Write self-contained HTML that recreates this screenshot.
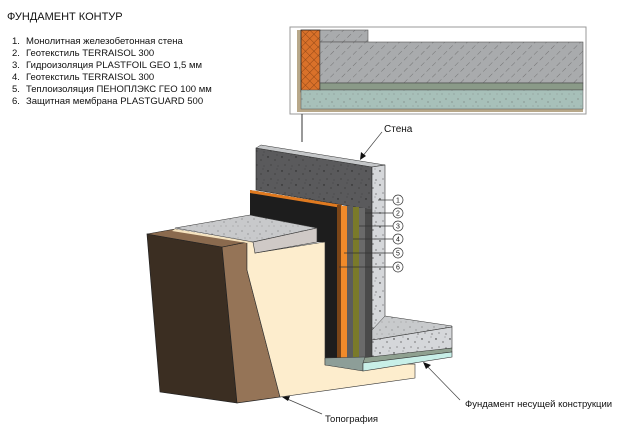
<!DOCTYPE html>
<html><head><meta charset="utf-8"><style>
html,body{margin:0;padding:0;background:#fff;width:623px;height:444px;overflow:hidden}
svg{display:block}
text{font-family:"Liberation Sans","DejaVu Sans",sans-serif;fill:#111}
</style></head><body>
<svg width="623" height="444" viewBox="0 0 623 444" xmlns="http://www.w3.org/2000/svg">
<defs>
<pattern id="spk" width="14" height="14" patternUnits="userSpaceOnUse">
<circle cx="2" cy="3" r="0.7" fill="#222"/><circle cx="9" cy="6" r="0.6" fill="#333"/><circle cx="5" cy="11" r="0.5" fill="#222"/><circle cx="12" cy="12" r="0.6" fill="#444"/><circle cx="11" cy="1" r="0.4" fill="#222"/>
</pattern>
<pattern id="spkL" width="12" height="12" patternUnits="userSpaceOnUse">
<circle cx="2" cy="3" r="0.6" fill="#777"/><circle cx="8" cy="6" r="0.5" fill="#555"/><circle cx="5" cy="10" r="0.5" fill="#888"/><circle cx="10" cy="10" r="0.4" fill="#555"/>
</pattern>
<pattern id="hatch" width="8" height="8" patternUnits="userSpaceOnUse" patternTransform="rotate(45)">
<rect width="8" height="8" fill="#a9abad"/><line x1="0" y1="0" x2="0" y2="5" stroke="#666" stroke-width="0.8"/>
</pattern>
<pattern id="cross" width="6" height="6" patternUnits="userSpaceOnUse" patternTransform="rotate(45)">
<rect width="6" height="6" fill="#d9712a"/><path d="M0 0H6M0 0V6" stroke="#7a3a10" stroke-width="0.8"/>
</pattern>
</defs>

<!-- title & legend -->
<text x="7" y="20" font-size="11">ФУНДАМЕНТ КОНТУР</text>
<g font-size="9.5">
<text x="12" y="44">1.</text><text x="26" y="44">Монолитная железобетонная стена</text>
<text x="12" y="56">2.</text><text x="26" y="56">Геотекстиль TERRAISOL 300</text>
<text x="12" y="68">3.</text><text x="26" y="68">Гидроизоляция PLASTFOIL GEO 1,5 мм</text>
<text x="12" y="80">4.</text><text x="26" y="80">Геотекстиль TERRAISOL 300</text>
<text x="12" y="92">5.</text><text x="26" y="92">Теплоизоляция ПЕНОПЛЭКС ГЕО 100 мм</text>
<text x="12" y="104">6.</text><text x="26" y="104">Защитная мембрана PLASTGUARD 500</text>
</g>

<!-- inset -->
<rect x="290" y="27" width="296" height="87" fill="#fff" stroke="#999"/>
<rect x="297" y="30" width="4" height="82" fill="#b8a88a"/>
<rect x="297" y="109" width="286" height="3" fill="#b8a88a"/>
<rect x="301" y="30" width="19" height="62" fill="url(#cross)" stroke="#222" stroke-width="0.8"/>
<rect x="320" y="30" width="48" height="12" fill="url(#hatch)" stroke="#555" stroke-width="0.6"/>
<rect x="320" y="42" width="263" height="41" fill="url(#hatch)" stroke="#555" stroke-width="0.6"/>
<rect x="320" y="83" width="263" height="7" fill="#8a9a88" stroke="#444" stroke-width="0.6"/>
<rect x="301" y="90" width="282" height="19" fill="#a7c0b9" stroke="#555" stroke-width="0.5"/>
<rect x="301" y="90" width="282" height="19" fill="url(#spkL)"/>
<line x1="302" y1="114" x2="302" y2="142" stroke="#333" stroke-width="1"/>

<!-- wall dark front face -->
<polygon points="256,148 372,167 372,210 256,190" fill="#5a5a5c" stroke="#222" stroke-width="0.6"/>
<polygon points="256,148 372,167 372,210 256,190" fill="url(#spk)"/>
<polygon points="256,148 261,145 385,165 372,167" fill="#c5c7c9" stroke="#333" stroke-width="0.5"/>
<!-- black membrane -->
<polygon points="250,190 342,205 342,360 325,360 325,242 250,242" fill="#1d1d1d"/>
<polygon points="250,190 342,205 342,208 250,193" fill="#e07a20"/>
<rect x="337" y="205" width="4" height="155" fill="#7a4518"/>
<rect x="341" y="206" width="6" height="154" fill="#f08a2a"/>
<rect x="347" y="206" width="6" height="154" fill="#5c5c5c"/>
<rect x="353" y="207" width="6" height="153" fill="#7a7a2a"/>
<rect x="359" y="208" width="6" height="152" fill="#6a6a6a"/>
<rect x="365" y="209" width="7" height="151" fill="#4a4a4a"/>

<!-- brown ground block -->
<polygon points="147,234 222,247 237,403 160,392" fill="#3b2e22" stroke="#222" stroke-width="0.7"/>
<polygon points="222,247 247,242 247,270 280,397 237,403" fill="#957457" stroke="#222" stroke-width="0.7"/>
<polygon points="147,234 175,229 247,242 222,247" fill="#8a6a4e" stroke="#222" stroke-width="0.6"/>
<!-- beige sand -->
<polygon points="247,242 255,242 255,253 318,243 325,242 325,365 415,364 415,378 280,397 247,270" fill="#fdedcd" stroke="#333" stroke-width="0.6"/>
<polygon points="175,229 253,242 247,243 172,231" fill="#f5e3bf"/>
<!-- ground slab -->
<polygon points="175,228 250,215 317,228 253,242" fill="#c8c9cb" stroke="#333" stroke-width="0.6"/>
<polygon points="175,228 250,215 317,228 253,242" fill="url(#spkL)"/>
<polygon points="253,242 317,228 317,242 255,253" fill="#cfc9c6" stroke="#333" stroke-width="0.6"/>

<!-- wall side face -->
<polygon points="372,167 385,165 385,316 372,340" fill="#d5d7da" stroke="#333" stroke-width="0.6"/>
<polygon points="372,167 385,165 385,316 372,340" fill="url(#spk)"/>
<!-- footing slab -->
<polygon points="385,316 452,326 452,327 372,340 372,330" fill="#c8cacc" stroke="#333" stroke-width="0.5"/>
<polygon points="385,316 452,326 452,327 372,340 372,330" fill="url(#spkL)"/>
<polygon points="372,340 452,327 452,348 372,360" fill="#d5d7da" stroke="#333" stroke-width="0.6"/>
<polygon points="372,340 452,327 452,348 372,360" fill="url(#spk)"/>
<polygon points="342,360 452,348 452,352 365,363 342,363" fill="#8fa090" stroke="#333" stroke-width="0.5"/>
<polygon points="325,358 365,357 363,363 363,371 325,365" fill="#8d9e98" stroke="#333" stroke-width="0.5"/>
<polygon points="363,363 452,352 452,357 363,371" fill="#c8efe8" stroke="#333" stroke-width="0.6"/>

<!-- callouts -->
<g stroke="#333" stroke-width="0.7" fill="#fff">
<line x1="378" y1="200" x2="393" y2="200"/><line x1="365" y1="213" x2="393" y2="213"/>
<line x1="359" y1="226" x2="393" y2="226"/><line x1="353" y1="239" x2="393" y2="239"/>
<line x1="344" y1="253" x2="393" y2="253"/><line x1="339" y1="267" x2="393" y2="267"/>
<circle cx="398" cy="200" r="5"/><circle cx="398" cy="213" r="5"/><circle cx="398" cy="226" r="5"/>
<circle cx="398" cy="239" r="5"/><circle cx="398" cy="253" r="5"/><circle cx="398" cy="267" r="5"/>
</g>
<g font-size="7" text-anchor="middle">
<text x="398" y="202.5">1</text><text x="398" y="215.5">2</text><text x="398" y="228.5">3</text>
<text x="398" y="241.5">4</text><text x="398" y="255.5">5</text><text x="398" y="269.5">6</text>
</g>
<g stroke="#444" stroke-width="0.7">
<line x1="382" y1="132" x2="362" y2="157"/>
<line x1="460" y1="400" x2="425" y2="364"/>
<line x1="322" y1="414" x2="285" y2="398"/>
</g>
<g fill="#111">
<polygon points="360,160 361,152 366,156"/>
<polygon points="423,362 431,365 426,369"/>
<polygon points="282,397 290,396 288,401"/>
</g>
<text x="384" y="132" font-size="10">Стена</text>
<text x="465" y="407" font-size="9.5">Фундамент несущей конструкции</text>
<text x="325" y="422" font-size="9.5">Топография</text>
</svg>
</body></html>
